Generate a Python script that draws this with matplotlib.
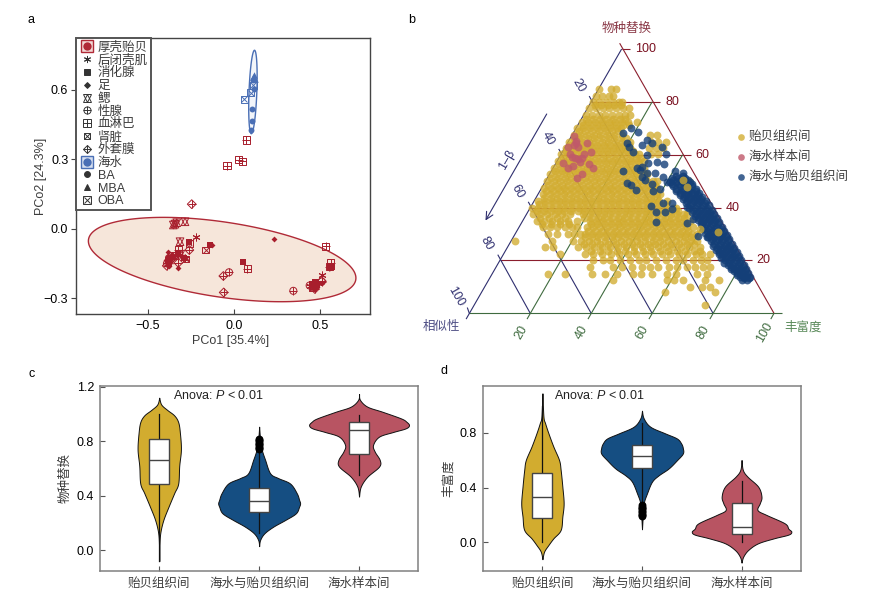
import numpy as np
import matplotlib
matplotlib.use('Agg')
import matplotlib.pyplot as plt
from matplotlib.lines import Line2D
from matplotlib.legend_handler import HandlerTuple

plt.rcParams['font.family'] = ['Liberation Sans', 'Noto Sans CJK SC']
plt.rcParams['font.size'] = 9
plt.rcParams['mathtext.fontset'] = 'custom'
plt.rcParams['mathtext.rm'] = 'Liberation Sans'
plt.rcParams['mathtext.it'] = 'Liberation Sans:italic'
plt.rcParams['mathtext.bf'] = 'Liberation Sans:bold'

W, H = 869, 599
RED = '#B02A37'
BLUE = '#4A6FB5'
DARK = '#333333'
TXT = '#3c3c3c'

# ---------- panel a: PCoA ----------
adductor = [(-.223,-.036),(.51,-.2),(.442,-.247),(-.285,-.128),(-.37,-.13),(-.385,-.15),(.47,-.25),(.49,-.235)]
digestive = [(-.14,-.07),(.05,-.142),(.558,-.167),(.57,-.165),(-.26,-.059),(-.324,-.109),(-.372,-.128),(-.385,-.14),(.46,-.245),(.48,-.24),(-.29,-.125),(-.38,-.15),(.47,-.232),(.452,-.24)]
foot = [(.233,-.043),(-.382,-.1),(-.324,-.17),(-.291,-.124),(-.13,-.07),(.56,-.17),(.48,-.25),(-.39,-.145),(-.36,-.115),(-.38,-.16),(.45,-.24),(.51,-.235),(-.37,-.145),(-.35,-.125),(-.395,-.135),(.465,-.255)]
gill = [(-.343,.02),(-.333,.026),(-.353,.016),(-.285,.03),(-.314,-.056),(-.31,-.11),(-.375,-.135)]
gonad = [(-.029,-.188),(.345,-.268),(-.39,-.15),(.46,-.25),(.51,-.228),(-.375,-.125),(.44,-.245)]
lymph = [(.533,-.075),(.562,-.147),(.076,-.173),(-.324,-.092),(.555,-.165),(.070,.383),(.027,.297),(.048,.292),(-.041,.272)]
kidney = [(-.165,-.092),(-.26,-.063),(-.279,-.131),(-.345,-.115),(-.385,-.135),(.47,-.24),(.455,-.255)]
mantle = [(-.246,.106),(-.26,-.092),(-.324,-.147),(-.391,-.16),(-.062,-.204),(-.06,-.275),(.51,-.226),(.47,-.26)]
sea_ba = [(.097,.426),(.103,.465),(.105,.517),(.119,.602),(.113,.642)]
sea_mba = [(.116,.663),(.113,.653),(.12,.645)]
sea_oba = [(.06,.558),(.097,.586),(.111,.62)]
red_ellipse = dict(cx=-.069, cy=-.133, a=.778, b=.182, phi=116)
blue_ellipse = dict(cx=.11, cy=.59, a=.0245, b=.18, phi=68)
legend_labels = ['厚壳贻贝','后闭壳肌','消化腺','足','鳃','性腺','血淋巴','肾脏','外套膜','海水','BA','MBA','OBA']

# ---------- panel b: ternary values, in percent ----------
yellow_replacement = [84.8,82.4,80.1,77.6,75.1,72.4,70.1,67.6,64.9,62.6,60.1,57.6,55.0,52.6,50.1,47.4,45.1,42.6,40.0,37.5,35.0,32.5,30.0,27.5,25.0,22.5,20.0,17.5,15.0,12.5,10.0,8.0,3.0]
yellow_richness = [
 [0.3,4.2,5.9],
 [0.5,2.5,4.6,6.1],
 [0.4,2.6,4.8,7.0,9.1,10.2],
 [0.5,2.8,5.0,7.2,9.3,11.5,13.6],
 [0.6,2.7,5.0,7.1,9.4,11.5,13.7,15.1],
 [0.7,2.9,5.1,7.3,9.5,11.6,13.8,16.0,18.8],
 [0.3,2.4,4.6,6.8,9.0,11.2,13.3,14.6],
 [0.4,2.6,4.9,7.1,9.2,11.4,13.6,16.2,25.5,27.7],
 [0.2,2.3,4.5,6.7,8.9,11.0,13.2,15.4,17.6,20.2,27.3,29.6,32.2],
 [0.3,2.5,4.7,6.9,9.1,11.3,13.5,15.7,17.9,19.9,21.6,27.6,30.0,32.4],
 [0.2,2.4,4.6,6.8,9.0,11.2,13.4,15.6,17.8,20.0,22.2,24.4,25.6,29.5,32.0],
 [0.3,2.4,4.7,6.9,9.1,11.3,13.5,15.7,17.9,20.0,22.3,24.4,26.6,28.4],
 [0.2,2.5,4.6,6.8,9.0,11.2,13.4,15.6,17.8,20.0,22.2,24.4,26.6,28.4,29.7],
 [0.3,2.4,4.7,6.8,9.1,11.2,13.5,15.6,17.9,20.0,22.3,24.4,26.7,28.8,31.0,32.1],
 [0.4,2.6,4.8,7.0,9.2,11.4,13.6,15.8,18.0,20.2,22.4,24.6,26.8,29.0,31.2,33.4,35.4,36.6,44.1,46.9],
 [0.9,3.1,5.3,7.5,9.7,11.9,14.1,16.3,18.5,20.7,22.9,25.1,27.3,29.5,31.7,33.9,36.1,37.9],
 [1.8,4.0,6.2,8.4,10.6,12.8,15.0,17.2,19.4,21.6,23.8,26.0,28.2,30.4,32.6,34.8,37.0,38.9,40.1],
 [1.4,3.6,5.8,8.0,10.2,12.4,14.6,16.8,19.0,21.2,23.4,25.6,27.8,30.0,32.2,34.4,36.6,38.8,41.0,43.5],
 [0.5,2.7,4.9,7.1,9.3,11.5,13.7,15.9,18.1,20.3,22.5,24.7,26.9,29.1,31.3,33.5,35.7,37.9,40.1,42.3,44.5,46.7,48.0],
 [2.3,4.6,6.9,9.3,11.8,14.3,18.7,20.9,23.1,25.3,27.5,29.7,31.9,34.1,36.3,38.5,40.7,42.9,45.1,47.3,49.5,51.7,52.8],
 [4.6,7.1,9.8,12.4,15.0,17.7,22.1,24.3,26.5,28.7,30.9,33.1,35.3,37.5,39.7,41.9,44.1,46.3,48.5,50.7,52.9,54.9],
 [8.0,10.2,12.4,15.1,17.3,19.0,22.3,24.5,26.7,28.9,31.1,33.3,35.5,37.7,39.9,42.1,44.3,46.5,48.7,50.9,53.1,55.3,57.3],
 [10.9,13.7,17.5,19.5,21.3,23.0,25.4,27.6,29.8,32.0,34.2,36.4,38.6,40.8,43.0,45.2,47.4,49.6,51.8,54.0,56.2,58.1,59.6],
 [1.3,13.3,20.4,23.0,25.6,28.2,30.8,33.4,36.0,38.6,41.2,43.8,46.4,49.0,51.6,54.2,56.8,59.0,60.9],
 [12.3,15.0,23.3,25.9,28.5,31.1,33.7,36.3,38.9,41.5,44.1,46.7,49.3,51.9,54.5,57.1,59.7,63.2],
 [18.5,26.7,29.5,32.3,35.1,37.9,40.7,43.5,46.3,49.1,51.9,54.7,57.5,60.3,63.1,65.0,67.7],
 [30.7,33.9,36.2,39.4,42.6,45.8,48.1,51.3,54.5,57.7,60.2,63.4,66.1,67.9],
 [30.9,38.5,41.5,44.6,47.9,50.5,53.2,56.8,59.4,62.7,65.3,68.1,70.2],
 [18.4,23.9,32.7,37.0,40.9,46.3,49.0,52.3,57.3,60.5,67.1,70.4],
 [41.0,58.5,61.0,63.9,71.1,75.8],
 [67.4,71.3,74.0],
 [60.2,76.6],
 [75.9],
]
# the solid part of the cloud holds many more points than can be told apart
yellow_core_replacement = [78.8,73.6,71.2,68.8,66.2,63.7,61.3,58.8,56.3,53.8,51.3,48.7,46.2,43.8,41.2,38.7,36.2,33.7,31.2,28.7,26.2,23.7]
yellow_core_richness = [
 [1.7,3.9,6.1,8.2,10.4],
 [1.6,3.8,6.0,8.2,10.4,12.6,14.4],
 [1.8,4.0,6.2,8.4,10.5,12.7,14.9,16.8],
 [1.5,3.7,5.9,8.1,10.3,12.5,14.5],
 [1.3,3.5,5.7,7.9,10.1,12.3,14.5,16.7,18.2],
 [1.2,3.4,5.6,7.8,10.0,12.2,14.4,16.6,18.8,20.6],
 [1.2,3.4,5.6,7.8,10.0,12.2,14.4,16.6,18.8,21.0,23.0],
 [1.2,3.4,5.6,7.8,10.0,12.2,14.4,16.6,18.8,21.0,23.2,25.3,27.0],
 [1.2,3.4,5.6,7.8,10.0,12.2,14.4,16.6,18.8,21.0,23.2,25.4,27.5],
 [1.2,3.4,5.6,7.8,10.0,12.2,14.4,16.6,18.8,21.0,23.2,25.4,27.6,29.3],
 [1.2,3.4,5.6,7.8,10.0,12.2,14.4,16.6,18.8,21.0,23.2,25.4,27.6,29.8,32.0],
 [1.6,3.8,6.0,8.2,10.4,12.6,14.8,17.0,19.2,21.4,23.6,25.8,28.0,30.2,32.4,34.6,36.6],
 [2.2,4.4,6.6,8.8,11.0,13.2,15.4,17.6,19.8,22.0,24.2,26.4,28.6,30.8,33.0,35.2,37.4],
 [2.6,4.8,7.0,9.2,11.4,13.6,15.8,18.0,20.2,22.4,24.6,26.8,29.0,31.2,33.4,35.6,37.8,39.8],
 [2.2,4.4,6.6,8.8,11.0,13.2,15.4,17.6,19.8,22.0,24.2,26.4,28.6,30.8,33.0,35.2,37.4,39.6,41.8,44.0],
 [3.0,5.2,7.4,9.6,11.8,14.0,16.2,18.4,20.6,22.8,25.0,27.2,29.4,31.6,33.8,36.0,38.2,40.4,42.6,44.8,47.0,49.2],
 [5.2,8.0,10.8,13.2,19.6,21.8,24.0,26.2,28.4,30.6,32.8,35.0,37.2,39.4,41.6,43.8,46.0,48.2,50.4,52.4],
 [7.0,10.0,13.0,15.8,23.0,25.2,27.4,29.6,31.8,34.0,36.2,38.4,40.6,42.8,45.0,47.2,49.4,51.6,53.8],
 [23.4,25.6,27.8,30.0,32.2,34.4,36.6,38.8,41.0,43.2,45.4,47.6,49.8,52.0,54.2,56.2],
 [23.6,25.8,28.0,30.2,32.4,34.6,36.8,39.0,41.2,43.4,45.6,47.8,50.0,52.2,54.4,56.6,58.4],
 [24.6,27.2,29.8,32.4,35.0,37.6,40.2,42.8,45.4,48.0,50.6,53.2,55.8,58.4,60.6],
 [28.2,31.0,33.8,36.6,39.4,42.2,45.0,47.8,50.6,53.4,56.2,59.0,61.8,64.0],
]
red_replacement = [67.1,65.3,63.7,63.1,62.8,64.6,60.3,59.0,58.6,58.4,58.6,60.3,61.2,57.0,55.1,55.7,56.4,55.1,52.7,51.3,57.4,64.3]
red_richness = [0.85,2.35,2.55,0.95,4.4,6.2,2.85,4.1,5.4,6.6,7.6,7.55,9.3,2.4,4.75,6.05,11.2,13.15,10.75,9.75,7.6,2.85]
blue_replacement = [68.3,70.1,68.7,64.3,63.1,61.2,63.7,65.6,64.3,62.8,59.9,60.2,55.1,55.5,56.7,57.1,56.6,53.7,54.2,53.0,53.0,51.7,53.8,53.0,51.7,50.4,48.9,47.0,49.8,49.2,48.5,46.8,46.4,41.9,40.6,38.2,38.3,39.3,41.9,34.4,40.2,35.8,29.3,28.8,34.0,34.0]
blue_richness = [16.15,18.15,21.05,19.45,20.95,23.2,24.75,25.4,27.65,31.7,28.45,34.3,27.55,29.05,30.45,32.95,35.7,23.65,28.9,31.7,34.4,37.85,40.6,43.7,30.75,32.5,35.35,39.1,39.9,27.3,28.85,31.3,37.2,42.75,39.2,42.1,45.15,46.95,45.45,44.2,51.2,55.6,60.55,63.5,54.6,59.3]
band_replacement = [52.0,51.2,50.4,49.6,48.8,48.0,47.2,46.4,45.6,44.8,44.0,43.2,42.4,41.6,40.8,40.0,39.2,38.4,37.6,36.8,36.0,35.2,34.4,33.6,32.8,32.0,31.2,30.4,29.6,28.8,28.0,27.2,26.4,25.6,24.8,24.0,23.2,22.4,21.6,20.8,20.0,19.2,18.4,17.6,16.8,16.0,15.2,14.4,13.8,13.2,12.6]
band_similarity = [
 [4.0,6.2],[3.6,5.8,7.8],[3.1,5.4,8.0],[2.9,5.0,7.2,9.2],[2.4,4.6,6.8,9.0],[2.8,4.9,7.0,9.0],[2.1,4.2,6.3,8.6],[2.4,4.6,6.8,8.8],[1.8,3.8,5.9,8.1],[2.4,4.4,6.4,8.4],[1.5,3.5,5.5,7.6],[2.2,4.2,6.2,8.2],
 [1.2,3.2,5.2,7.4],[2.0,4.0,6.0,8.0],[1.0,3.0,5.0,7.2],[1.9,3.9,5.9,7.8],[0.8,2.8,4.8,7.0],[1.7,3.7,5.7,7.7],[0.8,2.7,4.7,6.8],[1.6,3.6,5.6,7.5],[0.7,2.6,4.6,6.6],[1.6,3.5,5.5,7.4],[0.7,2.6,4.5,6.5],[1.5,3.4,5.4,7.3],
 [0.7,2.6,4.5,6.5],[1.5,3.4,5.4,7.3],[0.7,2.6,4.5,6.4],[1.5,3.4,5.4,7.3],[0.7,2.6,4.5,6.4],[1.5,3.4,5.4,7.3],[0.7,2.6,4.5,6.4],[1.5,3.4,5.4,7.2],[0.7,2.6,4.5,6.4],[1.5,3.4,5.4,7.2],[0.7,2.6,4.5,6.4],[1.5,3.4,5.4,7.1],
 [0.7,2.6,4.5,6.3],[1.5,3.4,5.4,7.0],[0.7,2.6,4.5,6.2],[1.5,3.4,5.4,6.9],[0.7,2.6,4.5,6.1],[1.5,3.4,5.3,6.8],[0.8,2.7,4.6,6.0],[1.5,3.4,5.3],[0.8,2.7,4.6,5.8],[1.5,3.4,5.2],[0.9,2.8,4.6],[1.6,3.5,5.0],[0.9,2.8,4.4],[1.5,3.2],[2.6,4.3]]
yellow_top_replacement = [30.9,31.9,50.4,47.9]
yellow_top_richness = [66.3,59.75,45.0,47.4]
series_labels = ['贻贝组织间','海水样本间','海水与贻贝组织间']

# ---------- panels c, d: violin outlines ----------
categories = ['贻贝组织间','海水与贻贝组织间','海水样本间']
c_y = [
 [1.12,1.07,1.03,.99,.94,.86,.74,.62,.49,.42,.32,.22,.125,.03,-.08],
 [.907,.81,.736,.663,.565,.53,.49,.418,.37,.345,.32,.271,.222,.174,.125,.076,.03],
 [1.147,1.103,1.054,1.017,.968,.944,.919,.895,.868,.834,.773,.724,.663,.614,.54,.467,.394]]
c_w = [
 [0,.02,.08,.15,.19,.207,.217,.2,.19,.15,.093,.04,.01,.002,0],
 [0,.01,.027,.06,.11,.19,.31,.377,.4,.41,.4,.367,.26,.143,.053,.01,0],
 [0,.01,.083,.233,.42,.473,.5,.467,.34,.2,.14,.157,.207,.2,.083,.017,0]]
c_box = [(.49,.665,.82,1.0,-.08),(.28,.36,.455,.73,.125),(.71,.885,.94,.99,.55)]
c_out = [[],[.74,.75,.76,.77,.78,.79,.80,.81,.82],[]]
d_y = [
 [1.09,.92,.871,.798,.7,.602,.529,.407,.285,.188,.09,.029,-.02,-.068,-.124],
 [.963,.907,.846,.797,.76,.724,.69,.65,.6,.54,.49,.443,.358,.285,.187,.095],
 [.602,.529,.48,.407,.334,.285,.236,.2,.139,.10,.078,.056,.03,-.007,-.056,-.105,-.149]]
d_w = [
 [0,.01,.027,.06,.11,.167,.183,.2,.213,.2,.183,.11,.06,.017,0],
 [0,.017,.083,.233,.35,.393,.41,.41,.35,.267,.167,.1,.05,.017,.007,0],
 [0,.013,.06,.167,.2,.183,.16,.25,.433,.47,.5,.47,.33,.167,.067,.017,0]]
d_box = [(.175,.335,.51,1.0,.0),(.54,.635,.715,.87,.28),(.06,.115,.285,.445,.005)]
d_out = [[],[.19,.20,.21,.22,.23,.24,.25,.26,.27],[]]
violin_colors = ['#D2AC2F','#154E82','#B85462']


def frac(x0, y0, x1, y1):
    return [x0 / W, 1 - y1 / H, (x1 - x0) / W, (y1 - y0) / H]


fig = plt.figure(figsize=(W / 100, H / 100), dpi=100)

# overlay in pixel units: carries panel b and the panel letters
ov = fig.add_axes([0, 0, 1, 1], zorder=0)
ov.set_xlim(0, W)
ov.set_ylim(H, 0)
ov.axis('off')
for s, x, y in [('a', 31, 20), ('b', 412, 20), ('c', 32, 374), ('d', 444, 371)]:
    ov.text(x, y, s, ha='center', va='center', fontsize=9, color='k')

# ---------- a ----------
ax = fig.add_axes(frac(76, 38, 369.5, 314), zorder=1)
ax.set_xlim(-.919, .788)
ax.set_ylim(-.368, .823)


def ell(e):
    t = np.linspace(0, 2 * np.pi, 200)
    return e['cx'] + e['a'] * np.cos(t), e['cy'] + e['b'] * np.cos(t - np.radians(e['phi']))


x_, y_ = ell(red_ellipse)
ax.fill(x_, y_, fc='#F6E6DA', ec=RED, lw=1, zorder=1)
x_, y_ = ell(blue_ellipse)
ax.fill(x_, y_, fc='#F2F5FA', ec=BLUE, lw=1, zorder=1)

# marker recipes: (marker, size, filled)
STYLES = {
    'star': [((6, 2, 0), 26, False)],
    'square': [('s', 16, True)],
    'diamond': [('D', 9, True)],
    'david': [('^', 30, False), ('v', 30, False)],
    'gonad': [('o', 26, False), ('+', 26, False)],
    'lymph': [('s', 26, False), ('+', 26, False)],
    'kidney': [('s', 22, False), ('x', 16, False)],
    'mantle': [('D', 20, False), ('+', 34, False)],
    'ba': [('o', 18, True)],
    'mba': [('^', 22, True)],
    'oba': [('s', 26, False), ('x', 18, False)],
}


def plot_pts(pts, style, color):
    xs = [p[0] for p in pts]
    ys = [p[1] for p in pts]
    for m, s, filled in STYLES[style]:
        if filled:
            ax.scatter(xs, ys, marker=m, s=s, c=color, linewidths=0, zorder=3)
        else:
            ax.scatter(xs, ys, marker=m, s=s, facecolors='none' if m not in ['+', 'x', (6, 2, 0)] else color,
                       edgecolors=color, linewidths=.7, zorder=3)


for pts, st in [(adductor, 'star'), (digestive, 'square'), (foot, 'diamond'), (gill, 'david'), (gonad, 'gonad'),
                (lymph, 'lymph'), (kidney, 'kidney'), (mantle, 'mantle')]:
    plot_pts(pts, st, '#A81E2C')
for pts, st in [(sea_ba, 'ba'), (sea_mba, 'mba'), (sea_oba, 'oba')]:
    plot_pts(pts, st, BLUE)


def handle(style, color=DARK):
    out = []
    for m, s, filled in STYLES[style]:
        ms = np.sqrt(s)
        out.append(Line2D([], [], ls='', marker=m, ms=ms, mfc=color if filled else 'none', mec=color, mew=.7))
    return tuple(out)


h_red = (Line2D([], [], ls='', marker='s', ms=9, mfc='#F3D9D6', mec=RED, mew=1),
         Line2D([], [], ls='', marker='o', ms=6, mfc=RED, mec=RED, mew=0))
h_blue = (Line2D([], [], ls='', marker='s', ms=9, mfc='#D5DEEF', mec=BLUE, mew=1),
          Line2D([], [], ls='', marker='o', ms=6, mfc=BLUE, mec=BLUE, mew=0))
handles = [h_red, handle('star'), handle('square'), handle('diamond'), handle('david'), handle('gonad'),
           handle('lymph'), handle('kidney'), handle('mantle'), h_blue, handle('ba'), handle('mba'), handle('oba')]
leg = ax.legend(handles, legend_labels, loc='upper left', bbox_to_anchor=(0, 1), borderaxespad=0,
                handler_map={tuple: HandlerTuple(ndivide=1, pad=0)}, fontsize=9, labelspacing=.06, handlelength=1.2,
                handletextpad=.3, borderpad=.25, fancybox=False, framealpha=1, edgecolor='#555555',
                labelcolor=TXT)
leg.get_frame().set_linewidth(1.4)
leg.set_zorder(5)
ax.set_xticks([-.5, 0, .5], ['−0.5', '0.0', '0.5'])
ax.set_yticks([-.3, 0, .3, .6], ['−0.3', '0.0', '0.3', '0.6'])
ax.tick_params(axis='x', direction='in', length=3.5, width=.8, pad=4, color='#444444')
ax.tick_params(axis='y', direction='out', length=3.5, width=.8, pad=2, color='#444444')
for s in ax.spines.values():
    s.set_linewidth(1)
    s.set_color('#444444')
ax.set_xlabel('PCo1 [35.4%]', fontsize=9, color=TXT)
ax.set_ylabel('PCo2 [24.3%]', fontsize=9, color=TXT)
ax.xaxis.set_label_coords((231 - 76) / 293.5, -(335 - 314) / 276)
ax.yaxis.set_label_coords(-(76 - 47) / 293.5, .5)

# ---------- b ----------
X0, Y0, UX, UY = 469.3, 313.3, 3.047, 2.643


def tern(r, rich):
    r = np.asarray(r, float)
    rich = np.asarray(rich, float)
    return X0 + UX * (rich + r / 2), Y0 - UY * r


C_R, C_S, C_G = '#8B1E2D', '#2F2F6F', '#3F6B3F'
STUB = 2.7
for r in [0, 20, 40, 60, 80, 100]:
    x_, y_ = tern([r, r], [0, 100 - r])
    ov.plot([x_[0], x_[1] + UX * STUB], y_, color=C_R if r else C_G, lw=.8, zorder=1, solid_capstyle='butt')
    if r:
        ov.text(x_[1] + 13, y_[1], str(r), color='#7A1020', fontsize=9, ha='left', va='center')
for s in [0, 20, 40, 60, 80, 100]:
    xa, ya = tern([100 - s, 0], [0, 100 - s])
    ov.plot([xa[0] - 2, xa[1]], [ya[0] - 5.5 * 1.05, ya[1]], color=C_S if s else C_R, lw=.8, zorder=1,
            solid_capstyle='butt')
    if s:
        ov.text(xa[0] - 13, ya[0] - 16.5, str(s), color=C_S, fontsize=9, rotation=-60, ha='center', va='center',
                rotation_mode='anchor')
for g in [0, 20, 40, 60, 80, 100]:
    xa, ya = tern([0, 100 - g], [g, g])
    ov.plot([xa[0] - 3.2, xa[1]], [ya[0] + 5.8, ya[1]], color=C_G if g else C_S, lw=.8, zorder=1,
            solid_capstyle='butt')
    if g:
        ov.text(xa[0] - 9.5, ya[0] + 19, str(g), color=C_G, fontsize=9, rotation=60, ha='center', va='center',
                rotation_mode='anchor')

S_PT = 32
yr, yg = [], []
for r, row in zip(yellow_replacement, yellow_richness):
    yr += [r] * len(row)
    yg += row
for r, row in zip(yellow_core_replacement, yellow_core_richness):
    yr += [r] * len(row)
    yg += row
px_, py_ = tern(yr, yg)
h1 = ov.scatter(px_, py_, s=S_PT, c='#D2AC2F', alpha=.78, linewidths=0, zorder=2)
px_, py_ = tern(red_replacement, red_richness)
h2 = ov.scatter(px_, py_, s=S_PT, c='#C0596A', alpha=.8, linewidths=0, zorder=3)
br, bg = list(blue_replacement), list(blue_richness)
for r, row in zip(band_replacement, band_similarity):
    br += [r] * len(row)
    bg += [100 - r - s for s in row]
px_, py_ = tern(br, bg)
h3 = ov.scatter(px_, py_, s=S_PT, c='#143F78', alpha=.8, linewidths=0, zorder=4)
px_, py_ = tern(yellow_top_replacement, yellow_top_richness)
ov.scatter(px_, py_, s=S_PT, c='#D2AC2F', alpha=.78, linewidths=0, zorder=5)

ov.text(626.5, 29, '物种替换', color='#8B3A48', fontsize=9, ha='center', va='center')
ov.text(441, 327, '相似性', color='#4F4F85', fontsize=9, ha='center', va='center')
ov.text(803, 327, '丰富度', color='#5A8A5A', fontsize=9, ha='center', va='center')
ov.annotate('', xy=(485.5, 220.5), xytext=(546.7, 114),
            arrowprops=dict(arrowstyle='->', color=C_S, lw=.8, shrinkA=0, shrinkB=0, mutation_scale=13))
ov.text(507.5, 160, '1–β', color=C_S, fontsize=9, rotation=60, ha='center', va='center', rotation_mode='anchor')
ov.legend([h1, h2, h3], series_labels, loc='upper left', bbox_to_anchor=(735, 131), bbox_transform=ov.transData,
          frameon=False, fontsize=9, labelspacing=.63, handlelength=1, handletextpad=.1, borderpad=0, borderaxespad=0,
          labelcolor=TXT, scatterpoints=1, markerscale=.85)


# ---------- c, d ----------
def smooth(y, w, n=8):
    """Catmull-Rom curve through the read outline points."""
    p = np.column_stack([y, w])
    p = np.vstack([p[0], p, p[-1]])
    t = np.linspace(0, 1, n, endpoint=False)[:, None]
    out = []
    for i in range(1, len(p) - 2):
        a, b, c, d = p[i - 1], p[i], p[i + 1], p[i + 2]
        out.append(.5 * (2 * b + (c - a) * t + (2 * a - 5 * b + 4 * c - d) * t ** 2 + (3 * b - a - 3 * c + d) * t ** 3))
    out = np.vstack(out + [p[-2:-1]])
    return out[:, 0], np.clip(out[:, 1], 0, None)


def violins(a, ys, ws, boxes, outs):
    for i in range(3):
        pos = i + 1
        yy, ww = smooth(ys[i], ws[i])
        a.fill_betweenx(yy, pos - ww, pos + ww, fc=violin_colors[i], ec='#111111', lw=.7, zorder=2)
        q1, med, q3, hi, lo = boxes[i]
        a.plot([pos, pos], [lo, hi], color='#111111', lw=.9, zorder=3)
        a.bxp([dict(med=med, q1=q1, q3=q3, whislo=q1, whishi=q3, fliers=[])], positions=[pos], widths=.2,
              patch_artist=True, showcaps=False, showfliers=False,
              boxprops=dict(fc='white', ec='#444444', lw=1, zorder=4),
              medianprops=dict(color='#444444', lw=1, zorder=5),
              whiskerprops=dict(lw=0), manage_ticks=False)
        if outs[i]:
            a.scatter([pos] * len(outs[i]), outs[i], s=32, c='k', zorder=4, linewidths=0)
    a.set_xticks([1, 2, 3], categories, color=TXT)
    a.tick_params(axis='both', direction='in', length=3.5, width=.8, color='#555555')
    a.tick_params(axis='x', pad=5)
    a.tick_params(axis='y', pad=4)
    for s in a.spines.values():
        s.set_linewidth(1.1)
        s.set_color('#808080')


axc = fig.add_axes(frac(99.5, 385.7, 418, 570.7), zorder=1)
axc.set_xlim(.402, 3.59)
axc.set_ylim(-.15, 1.208)
violins(axc, c_y, c_w, c_box, c_out)
axc.set_yticks([0, .4, .8, 1.2], ['0.0', '0.4', '0.8', '1.2'])
axc.text(173, 395.7, 'Anova: $P$ < 0.01', transform=ov.transData, fontsize=9, va='center', color='#222222')
axc.set_ylabel('物种替换', fontsize=9, color=TXT)
axc.yaxis.set_label_coords(-(99.5 - 72) / 318.5, .5)

axd = fig.add_axes(frac(482.7, 385.7, 801.3, 570.7), zorder=1)
axd.set_xlim(.4, 3.6)
axd.set_ylim(-.208, 1.146)
violins(axd, d_y, d_w, d_box, d_out)
axd.set_yticks([0, .4, .8], ['0.0', '0.4', '0.8'])
axd.text(554, 395.7, 'Anova: $P$ < 0.01', transform=ov.transData, fontsize=9, va='center', color='#222222')
axd.set_ylabel('丰富度', fontsize=9, color=TXT)
axd.yaxis.set_label_coords(-(482.7 - 455) / 318.6, .5)

fig.savefig('out.png', dpi=100)
